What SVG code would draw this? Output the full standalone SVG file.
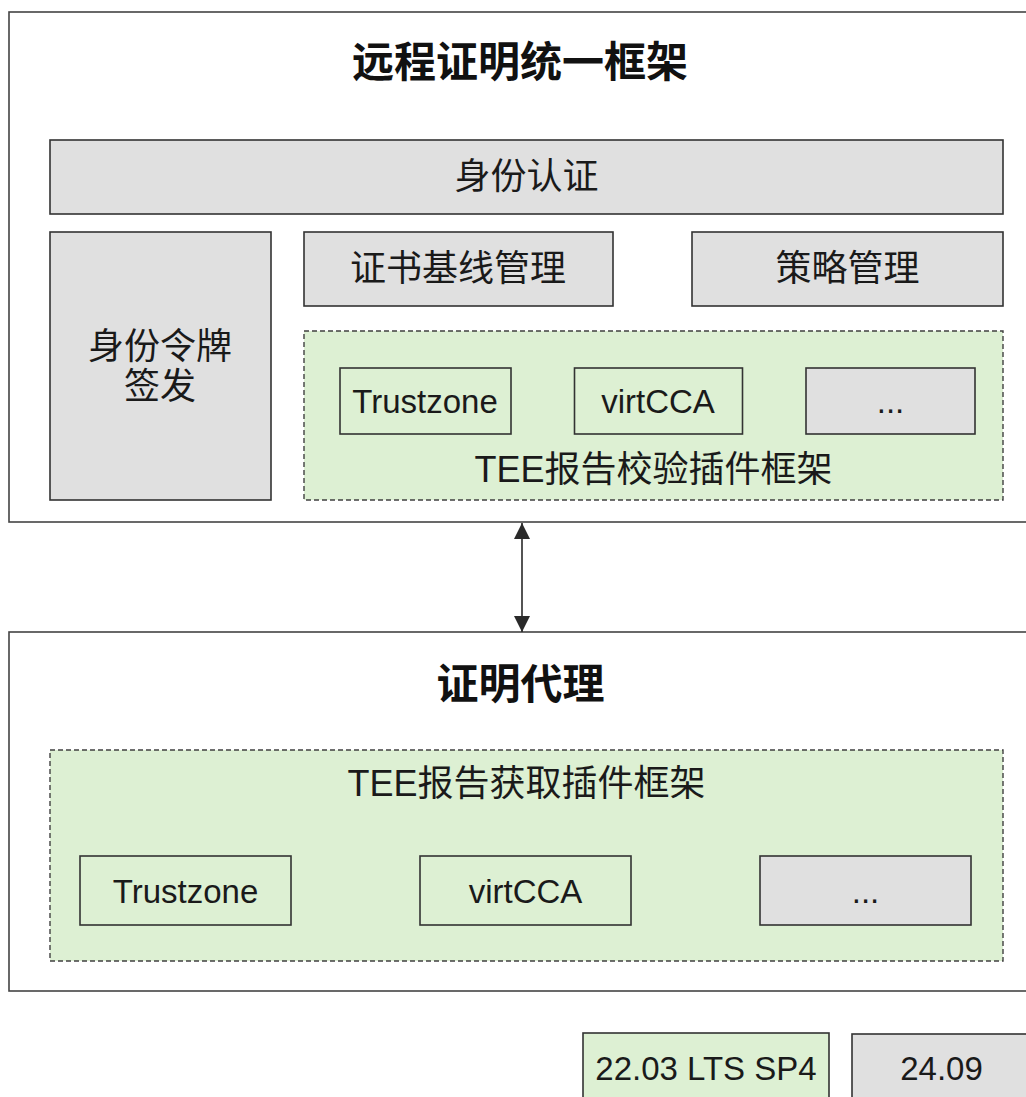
<svg xmlns="http://www.w3.org/2000/svg" width="1026" height="1097" viewBox="0 0 1026 1097">
  <style>
    .frame { fill: #ffffff; stroke: #444444; stroke-width: 1.6; }
    .gray { fill: #e0e0e0; stroke: #333333; stroke-width: 1.6; }
    .green { fill: #ddf0d3; stroke: #333333; stroke-width: 1.6; }
    .plug { fill: #ddf0d3; stroke: #404040; stroke-width: 1.4; stroke-dasharray: 5 3; }
    .title { font-family: "Noto Sans CJK SC", "Liberation Sans", sans-serif; font-weight: bold; font-size: 42px; fill: #111; text-anchor: middle; }
    .cjk { font-family: "Liberation Sans", "Noto Sans CJK SC", sans-serif; font-size: 36px; fill: #1a1a1a; text-anchor: middle; }
    .lat { font-family: "Liberation Sans", "Noto Sans CJK SC", sans-serif; font-size: 33px; fill: #1a1a1a; text-anchor: middle; }
    .conn { stroke: #2a2a2a; stroke-width: 1.6; fill: none; }
  </style>
  <defs>
    <marker id="arrow" markerUnits="userSpaceOnUse" markerWidth="16" markerHeight="16" viewBox="0 0 16 16" refX="16" refY="8" orient="auto-start-reverse">
      <path d="M0,0 L16,8 L0,16 z" fill="#2a2a2a"/>
    </marker>
  </defs>

  <g id="attestation-framework">
    <rect class="frame" x="9" y="12" width="1030" height="510"/>
    <text class="title" x="520" y="77">远程证明统一框架</text>
  </g>

  <g id="identity-auth">
    <rect class="gray" x="50" y="140" width="953" height="74"/>
    <text class="cjk" x="526.5" y="189">身份认证</text>
  </g>

  <g id="token-issue">
    <rect class="gray" x="50" y="232" width="221" height="268"/>
    <text class="cjk" x="160" y="359">身份令牌</text>
    <text class="cjk" x="160" y="399">签发</text>
  </g>

  <g id="cert-baseline">
    <rect class="gray" x="304" y="232" width="309" height="74"/>
    <text class="cjk" x="458" y="281">证书基线管理</text>
  </g>

  <g id="policy">
    <rect class="gray" x="692" y="232" width="311" height="74"/>
    <text class="cjk" x="847.5" y="281">策略管理</text>
  </g>

  <g id="verify-plugins">
    <rect class="plug" x="304" y="331" width="699" height="169"/>
    <text class="cjk" x="653.5" y="482">TEE报告校验插件框架</text>
  </g>

  <g id="verify-trustzone">
    <rect class="green" x="340" y="368" width="171" height="66"/>
    <text class="lat" x="425" y="413">Trustzone</text>
  </g>

  <g id="verify-virtcca">
    <rect class="green" x="574.5" y="368" width="168" height="66"/>
    <text class="lat" x="658" y="413">virtCCA</text>
  </g>

  <g id="verify-more">
    <rect class="gray" x="806" y="368" width="169" height="66"/>
    <text class="lat" x="890.5" y="413">...</text>
  </g>

  <g id="attestation-agent">
    <rect class="frame" x="9" y="632" width="1030" height="359"/>
    <text class="title" x="520.5" y="698.5">证明代理</text>
  </g>

  <g id="fetch-plugins">
    <rect class="plug" x="50" y="750" width="953" height="211"/>
    <text class="cjk" x="526.5" y="796">TEE报告获取插件框架</text>
  </g>

  <g id="fetch-trustzone">
    <rect class="green" x="80" y="856" width="211" height="69"/>
    <text class="lat" x="185.5" y="903">Trustzone</text>
  </g>

  <g id="fetch-virtcca">
    <rect class="green" x="420" y="856" width="211" height="69"/>
    <text class="lat" x="525.5" y="903">virtCCA</text>
  </g>

  <g id="fetch-more">
    <rect class="gray" x="760" y="856" width="211" height="69"/>
    <text class="lat" x="865.5" y="903">...</text>
  </g>

  <g id="legend-2203">
    <rect class="green" x="583" y="1033" width="246" height="80"/>
    <text class="lat" x="706" y="1079.5">22.03 LTS SP4</text>
  </g>

  <g id="legend-2409">
    <rect class="gray" x="852" y="1034" width="190" height="80"/>
    <text class="lat" x="941.5" y="1079.5">24.09</text>
  </g>

  <g id="connectors">
    <line class="conn" x1="522" y1="523" x2="522" y2="632" marker-start="url(#arrow)" marker-end="url(#arrow)"/>
  </g>
</svg>
